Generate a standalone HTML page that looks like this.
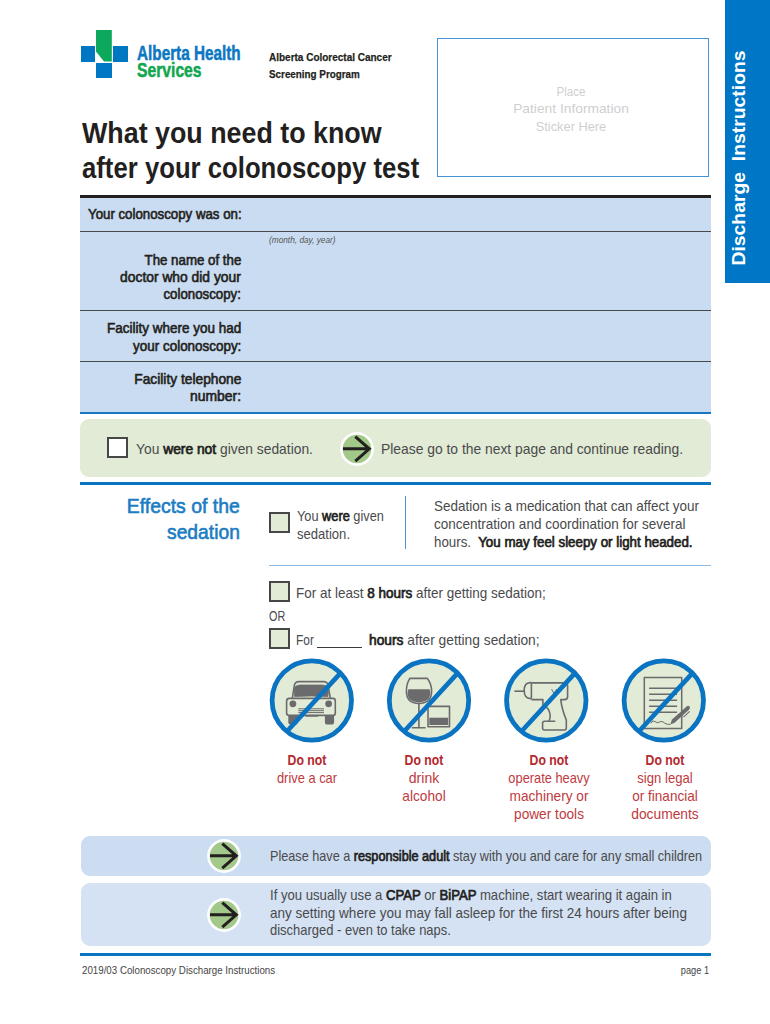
<!DOCTYPE html><html><head><meta charset="utf-8"><style>
html,body{margin:0;padding:0;background:#fff;}
body{width:770px;height:1024px;position:relative;overflow:hidden;font-family:"Liberation Sans",sans-serif;}
.a{position:absolute;}
.tx{position:absolute;white-space:nowrap;line-height:1;}
.tx b{font-weight:400;color:#1f1f20;-webkit-text-stroke:0.7px #1f1f20;}
</style></head><body>
<div class="a" style="left:725px;top:0;width:45px;height:283px;background:#0077c6"></div>
<div class="a" style="left:80.5px;top:45.6px;width:14.8px;height:16px;background:#0077c2"></div>
<div class="a" style="left:113px;top:45.6px;width:15px;height:16px;background:#0077c2"></div>
<div class="a" style="left:96.2px;top:62.8px;width:15.8px;height:15.2px;background:#0077c2"></div>
<svg class="a" style="left:96.2px;top:30.1px" width="16" height="32" viewBox="0 0 16 32"><path d="M0 0 H15.8 V31.4 H8 L0 21.4 Z" fill="#0ca85c"/></svg>
<div class="a" style="left:436.75px;top:38.15px;width:269.9px;height:137.1px;border:1.7px solid #4694d6"></div>
<div class="a" style="left:80px;top:195.2px;width:631px;height:2.9px;background:#231f20"></div>
<div class="a" style="left:80px;top:198.1px;width:631px;height:214.4px;background:#cadcf1"></div>
<div class="a" style="left:80px;top:230.5px;width:631px;height:1.2px;background:#4a4a4c"></div>
<div class="a" style="left:80px;top:310.3px;width:631px;height:1.2px;background:#4a4a4c"></div>
<div class="a" style="left:80px;top:360.8px;width:631px;height:1.2px;background:#4a4a4c"></div>
<div class="a" style="left:80px;top:412.3px;width:631px;height:1.6px;background:#1a78c2"></div>
<div class="a" style="left:80.3px;top:418.9px;width:630.5px;height:57.7px;border-radius:9px;background:#e1ebd5"></div>
<div style="position:absolute;left:107px;top:437.3px;width:17px;height:17px;border:2px solid #474747;background:#fff"></div>
<svg style="position:absolute;left:339.4px;top:430.6px" width="36" height="36" viewBox="0 0 36 36">
<circle cx="18" cy="18" r="16.9" fill="#fff"/><circle cx="18" cy="18" r="14.3" fill="#a3c98a"/>
<path d="M4 17.8 H30.6 M16.3 5.6 L30.3 17.8 L16.3 30.2" fill="none" stroke="#231f20" stroke-width="3"/></svg>
<div class="a" style="left:80px;top:481.9px;width:631px;height:3px;background:#0a74c0"></div>
<div class="a" style="left:404.8px;top:496.2px;width:1.4px;height:53px;background:#4a94d3"></div>
<div style="position:absolute;left:269px;top:512.4px;width:17px;height:17px;border:2px solid #474747;background:#e1ebd5"></div>
<div class="a" style="left:269px;top:564.6px;width:441.5px;height:1.2px;background:#8fbbe3"></div>
<div style="position:absolute;left:269px;top:581.2px;width:17px;height:17px;border:2px solid #474747;background:#e1ebd5"></div>
<div style="position:absolute;left:269px;top:628px;width:17px;height:17px;border:2px solid #474747;background:#e1ebd5"></div>
<div class="a" style="left:317.3px;top:646.9px;width:44.7px;height:1.2px;background:#3b3b3d"></div>
<svg style="position:absolute;left:268px;top:656px" width="88" height="88" viewBox="0 0 88 88">
<circle cx="43.8" cy="44.5" r="40" fill="#e2ebd6"/>
<g fill="none" stroke="#6b6b6d" stroke-width="1.6" stroke-linejoin="round"><path d="M24.3 42.5 L26.3 29.5 Q27 25.6 31 25.6 H55.5 Q59.5 25.6 60.2 29.5 L62.3 42.5"/>
<path d="M26.6 40.5 Q25.6 33 27.3 30.6 Q28.8 28.8 33 29 H53.5 Q57.7 28.8 59.2 30.6 Q60.9 33 59.9 40.5 Q43.2 39.5 26.6 40.5 Z" fill="#6b6b6d" stroke="#6b6b6d" stroke-width="0.8"/>
<path d="M21.5 42.4 H65 Q67.3 42.4 67.3 45 V57 Q67.3 59.4 65 59.4 H21.5 Q18.6 59.4 18.6 57 V45 Q18.6 42.4 21.5 42.4 Z"/>
<circle cx="24.9" cy="47.8" r="3.4" fill="#6b6b6d" stroke="none"/><circle cx="60.6" cy="47.8" r="3.4" fill="#6b6b6d" stroke="none"/>
<path d="M30.3 52.8 H56 M30.3 54.7 H56 M30.3 56.6 H56" stroke-width="1"/>
<path d="M37.5 60.2 H50" stroke-width="1"/>
<path d="M20.3 59.4 V66 Q20.3 68.6 23 68.6 H27 Q29.7 68.6 29.7 66 V59.4 Z M56.9 59.4 V66 Q56.9 68.6 59.6 68.6 H63.4 Q66.1 68.6 66.1 66 V59.4 Z" fill="#6b6b6d" stroke="none"/></g>
<line x1="71.3" y1="18.3" x2="19.299999999999997" y2="75" stroke="#0a74c2" stroke-width="4.7"/>
<circle cx="43.8" cy="44.5" r="39.7" fill="none" stroke="#0a74c2" stroke-width="4.8"/></svg>
<svg style="position:absolute;left:385px;top:656px" width="88" height="88" viewBox="0 0 88 88">
<circle cx="44" cy="44.5" r="40" fill="#e2ebd6"/>
<g fill="none" stroke="#6b6b6d" stroke-width="1.6" stroke-linejoin="round"><path d="M24.8 22.4 H42.4 Q46.6 28 46.6 35 Q46.6 47.4 33.9 47.4 Q21.4 47.4 21.4 35 Q21.4 28 24.8 22.4 Z"/>
<path d="M23.5 33.2 H44.5 Q45.3 35 45.3 36.5 Q45.3 46.2 33.9 46.2 Q22.6 46.2 22.6 36.5 Q22.6 35 23.5 33.2 Z" fill="#6b6b6d" stroke="none"/>
<path d="M33.9 47.4 V71.8 M26.9 71.8 H40.6"/>
<path d="M43 50.4 H64.5 V70.8 H43 Z"/>
<path d="M44.3 61.7 H63.2 V69 H44.3 Z" fill="#6b6b6d" stroke="none"/></g>
<line x1="71.5" y1="18.3" x2="19.5" y2="75" stroke="#0a74c2" stroke-width="4.7"/>
<circle cx="44" cy="44.5" r="39.7" fill="none" stroke="#0a74c2" stroke-width="4.8"/></svg>
<svg style="position:absolute;left:503px;top:656px" width="88" height="88" viewBox="0 0 88 88">
<circle cx="43.3" cy="44.5" r="40" fill="#e2ebd6"/>
<g fill="none" stroke="#6b6b6d" stroke-width="1.6" stroke-linejoin="round"><path d="M11.4 35.2 H21.3"/>
<path d="M28.5 26.6 H27 Q21.2 26.8 21.2 34.5 Q21.2 42.6 27.5 42.6 H28.5"/>
<path d="M28.4 26.9 V42.6"/>
<path d="M28.4 26.9 H61.5 Q64.6 26.9 64.6 30 V40.5 Q64.6 43.6 61.5 43.6 H57.8 Q58.5 52 63.3 64 V72 Q63.3 74 61.3 74 H41.4 Q39.6 74 39.6 72 V67 Q39.6 65.2 41.4 65.2 H52.3"/>
<path d="M28.4 43.6 H39.9 V48.8 Q46.8 52 47.2 60 Q47.3 63.6 45.5 65.2"/>
<path d="M48.6 33.2 L51 37.6 L53.5 33.4 L55.4 37.6 L58.3 33.4" stroke-width="1"/></g>
<line x1="70.8" y1="18.3" x2="18.799999999999997" y2="75" stroke="#0a74c2" stroke-width="4.7"/>
<circle cx="43.3" cy="44.5" r="39.7" fill="none" stroke="#0a74c2" stroke-width="4.8"/></svg>
<svg style="position:absolute;left:620px;top:656px" width="88" height="88" viewBox="0 0 88 88">
<circle cx="43.8" cy="44.5" r="40" fill="#e2ebd6"/>
<g fill="none" stroke="#6b6b6d" stroke-width="1.6" stroke-linejoin="round"><path d="M24.3 21.5 H61.7 V72.6 H24.3 Z" stroke-width="1.5"/>
<path d="M29.1 32.2 H57.1 M29.1 38.3 H57.1 M29.1 44.3 H57.1 M29.1 50.3 H57.1 M29.1 56.2 H57.1" stroke-width="1.4"/>
<path d="M30.9 67.4 Q32.5 63.5 35 65.5 Q37.5 67.8 39.5 66 Q42 64.2 44.5 67 Q47 68.8 50.3 68.4" stroke-width="1"/>
<path d="M50.3 68.6 L52 63.6 L66.6 50.4 Q68.3 49 69.5 50.4 Q70.6 51.9 69.2 53.4 L54.6 66.8 Z" fill="#6b6b6d" stroke="none"/>
<path d="M63.4 61.1 L69.7 55.4" stroke-width="1.1"/></g>
<line x1="71.3" y1="18.3" x2="19.299999999999997" y2="75" stroke="#0a74c2" stroke-width="4.7"/>
<circle cx="43.8" cy="44.5" r="39.7" fill="none" stroke="#0a74c2" stroke-width="4.8"/></svg>
<div class="a" style="left:80.5px;top:835.8px;width:630px;height:40px;border-radius:9px;background:#ccdcf1"></div>
<div class="a" style="left:80.5px;top:882.5px;width:630px;height:63px;border-radius:9px;background:#d4e2f3"></div>
<svg style="position:absolute;left:206px;top:837.5px" width="36" height="36" viewBox="0 0 36 36">
<circle cx="18" cy="18" r="16.9" fill="#fff"/><circle cx="18" cy="18" r="14.3" fill="#a3c98a"/>
<path d="M4 17.8 H30.6 M16.3 5.6 L30.3 17.8 L16.3 30.2" fill="none" stroke="#231f20" stroke-width="3"/></svg>
<svg style="position:absolute;left:206px;top:897px" width="36" height="36" viewBox="0 0 36 36">
<circle cx="18" cy="18" r="16.9" fill="#fff"/><circle cx="18" cy="18" r="14.3" fill="#a3c98a"/>
<path d="M4 17.8 H30.6 M16.3 5.6 L30.3 17.8 L16.3 30.2" fill="none" stroke="#231f20" stroke-width="3"/></svg>
<div class="a" style="left:80px;top:953px;width:631px;height:3px;background:#0a74c0"></div>
<div class="a" style="left:737.5px;top:158.3px;width:0;height:0"><div id="tab" style="position:absolute;left:0;top:0;transform:translate(-50%,-50%) rotate(-90deg) scaleX(1.0190);white-space:nowrap;font-weight:700;color:#fff;font-size:19px;line-height:1;">Discharge&nbsp; Instructions</div></div>
<div class="tx" id="t0" style="left:136.5px;top:42.60px;font-size:20.2px;font-weight:700;color:#0b77c2;-webkit-text-stroke:0.5px #0b77c2;transform:scaleX(0.7577);transform-origin:left top">Alberta Health</div>
<div class="tx" id="t1" style="left:136.5px;top:60.40px;font-size:20.2px;font-weight:700;color:#12a650;-webkit-text-stroke:0.5px #12a650;transform:scaleX(0.7771);transform-origin:left top">Services</div>
<div class="tx" id="t2" style="left:269.1px;top:51.51px;font-size:11.8px;font-weight:700;color:#231F20;-webkit-text-stroke:0.25px #231f20;transform:scaleX(0.8462);transform-origin:left top">Alberta Colorectal Cancer</div>
<div class="tx" id="t3" style="left:269.1px;top:68.60px;font-size:11.8px;font-weight:700;color:#231F20;-webkit-text-stroke:0.25px #231f20;transform:scaleX(0.8349);transform-origin:left top">Screening Program</div>
<div class="tx" id="t4" style="left:571px;top:84.51px;font-size:13.2px;font-weight:400;color:#cfcfcf;transform:translateX(-50%)"><span style="display:inline-block;transform:scaleX(0.8818);transform-origin:center">Place</span></div>
<div class="tx" id="t5" style="left:571px;top:102.20px;font-size:13.2px;font-weight:400;color:#cfcfcf;transform:translateX(-50%)"><span style="display:inline-block;transform:scaleX(1.0450);transform-origin:center">Patient Information</span></div>
<div class="tx" id="t6" style="left:571px;top:120.40px;font-size:13.2px;font-weight:400;color:#cfcfcf;transform:translateX(-50%)"><span style="display:inline-block;transform:scaleX(0.9712);transform-origin:center">Sticker Here</span></div>
<div class="tx" id="t7" style="left:81.5px;top:118.71px;font-size:28.8px;font-weight:700;color:#231F20;transform:scaleX(0.9317);transform-origin:left top">What you need to know</div>
<div class="tx" id="t8" style="left:81.5px;top:154.01px;font-size:28.8px;font-weight:700;color:#231F20;transform:scaleX(0.8929);transform-origin:left top">after your colonoscopy test</div>
<div class="tx" id="t9" style="left:87.7px;top:207.41px;font-size:14.2px;font-weight:400;color:#231F20;-webkit-text-stroke:0.6px #231f20;transform:scaleX(0.9348);transform-origin:left top">Your colonoscopy was on:</div>
<div class="tx" id="t10" style="left:269px;top:235.91px;font-size:8.6px;font-weight:400;color:#555;font-style:italic;transform:scaleX(0.9638);transform-origin:left top">(month, day, year)</div>
<div class="tx" id="t11" style="right:529px;top:252.51px;font-size:14.2px;font-weight:400;color:#231F20;-webkit-text-stroke:0.6px #231f20;transform:scaleX(0.9369);transform-origin:right top">The name of the</div>
<div class="tx" id="t12" style="right:529px;top:270.21px;font-size:14.2px;font-weight:400;color:#231F20;-webkit-text-stroke:0.6px #231f20;transform:scaleX(0.9750);transform-origin:right top">doctor who did your</div>
<div class="tx" id="t13" style="right:529px;top:286.60px;font-size:14.2px;font-weight:400;color:#231F20;-webkit-text-stroke:0.6px #231f20;transform:scaleX(0.9337);transform-origin:right top">colonoscopy:</div>
<div class="tx" id="t14" style="right:529px;top:321.01px;font-size:14.2px;font-weight:400;color:#231F20;-webkit-text-stroke:0.6px #231f20;transform:scaleX(0.9504);transform-origin:right top">Facility where you had</div>
<div class="tx" id="t15" style="right:529px;top:338.60px;font-size:14.2px;font-weight:400;color:#231F20;-webkit-text-stroke:0.6px #231f20;transform:scaleX(0.9465);transform-origin:right top">your colonoscopy:</div>
<div class="tx" id="t16" style="right:529px;top:371.81px;font-size:14.2px;font-weight:400;color:#231F20;-webkit-text-stroke:0.6px #231f20;transform:scaleX(0.9700);transform-origin:right top">Facility telephone</div>
<div class="tx" id="t17" style="right:529px;top:388.51px;font-size:14.2px;font-weight:400;color:#231F20;-webkit-text-stroke:0.6px #231f20;transform:scaleX(0.9808);transform-origin:right top">number:</div>
<div class="tx" id="t18" style="left:135.8px;top:441.51px;font-size:14.2px;font-weight:400;color:#4a4a4c;transform:scaleX(0.9736);transform-origin:left top">You <b>were not</b> given sedation.</div>
<div class="tx" id="t19" style="left:380.8px;top:441.90px;font-size:14.2px;font-weight:400;color:#4a4a4c;transform:scaleX(0.9767);transform-origin:left top">Please go to the next page and continue reading.</div>
<div class="tx" id="t20" style="right:530.1px;top:496.30px;font-size:20.6px;font-weight:400;color:#1a7cc2;-webkit-text-stroke:0.6px #1a7cc2;transform:scaleX(0.9433);transform-origin:right top">Effects of the</div>
<div class="tx" id="t21" style="right:530px;top:522.01px;font-size:20.6px;font-weight:400;color:#1a7cc2;-webkit-text-stroke:0.6px #1a7cc2;transform:scaleX(0.9359);transform-origin:right top">sedation</div>
<div class="tx" id="t22" style="left:297.4px;top:509.21px;font-size:14.2px;font-weight:400;color:#4a4a4c;transform:scaleX(0.9000);transform-origin:left top">You <b>were</b> given</div>
<div class="tx" id="t23" style="left:297.4px;top:526.81px;font-size:14.2px;font-weight:400;color:#4a4a4c;transform:scaleX(0.9207);transform-origin:left top">sedation.</div>
<div class="tx" id="t24" style="left:433.6px;top:499.40px;font-size:14.2px;font-weight:400;color:#4a4a4c;transform:scaleX(0.9498);transform-origin:left top">Sedation is a medication that can affect your</div>
<div class="tx" id="t25" style="left:433.6px;top:517.01px;font-size:14.2px;font-weight:400;color:#4a4a4c;transform:scaleX(0.9523);transform-origin:left top">concentration and coordination for several</div>
<div class="tx" id="t26" style="left:433.6px;top:534.51px;font-size:14.2px;font-weight:400;color:#4a4a4c;transform:scaleX(0.9393);transform-origin:left top">hours.&nbsp; <b>You may feel sleepy or light headed.</b></div>
<div class="tx" id="t27" style="left:296.2px;top:586.01px;font-size:14.2px;font-weight:400;color:#4a4a4c;transform:scaleX(0.9506);transform-origin:left top">For at least <b>8 hours</b> after getting sedation;</div>
<div class="tx" id="t28" style="left:269.35px;top:608.51px;font-size:14.2px;font-weight:400;color:#4a4a4c;transform:scaleX(0.7619);transform-origin:left top">OR</div>
<div class="tx" id="t29" style="left:296.2px;top:632.81px;font-size:14.2px;font-weight:400;color:#4a4a4c;transform:scaleX(0.8381);transform-origin:left top">For</div>
<div class="tx" id="t30" style="left:369px;top:632.81px;font-size:14.2px;font-weight:400;color:#4a4a4c;transform:scaleX(0.9699);transform-origin:left top"><b>hours</b> after getting sedation;</div>
<div class="tx" id="t31" style="left:307.0px;top:753.01px;font-size:14.6px;font-weight:700;color:#b4282e;transform:translateX(-50%)"><span style="display:inline-block;transform:scaleX(0.8391);transform-origin:center">Do not</span></div>
<div class="tx" id="t32" style="left:307.0px;top:771.41px;font-size:14.6px;font-weight:400;color:#c0393e;transform:translateX(-50%)"><span style="display:inline-block;transform:scaleX(0.8824);transform-origin:center">drive a car</span></div>
<div class="tx" id="t33" style="left:423.9px;top:753.01px;font-size:14.6px;font-weight:700;color:#b4282e;transform:translateX(-50%)"><span style="display:inline-block;transform:scaleX(0.8391);transform-origin:center">Do not</span></div>
<div class="tx" id="t34" style="left:423.9px;top:771.41px;font-size:14.6px;font-weight:400;color:#c0393e;transform:translateX(-50%)"><span style="display:inline-block;transform:scaleX(0.9656);transform-origin:center">drink</span></div>
<div class="tx" id="t35" style="left:423.9px;top:789.16px;font-size:14.6px;font-weight:400;color:#c0393e;transform:translateX(-50%)"><span style="display:inline-block;transform:scaleX(0.9370);transform-origin:center">alcohol</span></div>
<div class="tx" id="t36" style="left:548.5px;top:753.01px;font-size:14.6px;font-weight:700;color:#b4282e;transform:translateX(-50%)"><span style="display:inline-block;transform:scaleX(0.8391);transform-origin:center">Do not</span></div>
<div class="tx" id="t37" style="left:548.5px;top:771.41px;font-size:14.6px;font-weight:400;color:#c0393e;transform:translateX(-50%)"><span style="display:inline-block;transform:scaleX(0.8785);transform-origin:center">operate heavy</span></div>
<div class="tx" id="t38" style="left:548.5px;top:789.16px;font-size:14.6px;font-weight:400;color:#c0393e;transform:translateX(-50%)"><span style="display:inline-block;transform:scaleX(0.9357);transform-origin:center">machinery or</span></div>
<div class="tx" id="t39" style="left:548.5px;top:806.91px;font-size:14.6px;font-weight:400;color:#c0393e;transform:translateX(-50%)"><span style="display:inline-block;transform:scaleX(0.9373);transform-origin:center">power tools</span></div>
<div class="tx" id="t40" style="left:665.3px;top:753.01px;font-size:14.6px;font-weight:700;color:#b4282e;transform:translateX(-50%)"><span style="display:inline-block;transform:scaleX(0.8391);transform-origin:center">Do not</span></div>
<div class="tx" id="t41" style="left:665.3px;top:771.41px;font-size:14.6px;font-weight:400;color:#c0393e;transform:translateX(-50%)"><span style="display:inline-block;transform:scaleX(0.8984);transform-origin:center">sign legal</span></div>
<div class="tx" id="t42" style="left:665.3px;top:789.16px;font-size:14.6px;font-weight:400;color:#c0393e;transform:translateX(-50%)"><span style="display:inline-block;transform:scaleX(0.9296);transform-origin:center">or financial</span></div>
<div class="tx" id="t43" style="left:665.3px;top:806.91px;font-size:14.6px;font-weight:400;color:#c0393e;transform:translateX(-50%)"><span style="display:inline-block;transform:scaleX(0.9451);transform-origin:center">documents</span></div>
<div class="tx" id="t44" style="left:270px;top:849.40px;font-size:14.2px;font-weight:400;color:#4a4a4c;transform:scaleX(0.8924);transform-origin:left top">Please have a <b>responsible adult</b> stay with you and care for any small children</div>
<div class="tx" id="t45" style="left:270px;top:888.01px;font-size:14.2px;font-weight:400;color:#4a4a4c;transform:scaleX(0.9253);transform-origin:left top">If you usually use a <b>CPAP</b> or <b>BiPAP</b> machine, start wearing it again in</div>
<div class="tx" id="t46" style="left:270px;top:905.71px;font-size:14.2px;font-weight:400;color:#4a4a4c;transform:scaleX(0.9525);transform-origin:left top">any setting where you may fall asleep for the first 24 hours after being</div>
<div class="tx" id="t47" style="left:270px;top:923.10px;font-size:14.2px;font-weight:400;color:#4a4a4c;transform:scaleX(0.9136);transform-origin:left top">discharged - even to take naps.</div>
<div class="tx" id="t48" style="left:81.8px;top:965.11px;font-size:10.5px;font-weight:400;color:#444;transform:scaleX(0.9269);transform-origin:left top">2019/03 Colonoscopy Discharge Instructions</div>
<div class="tx" id="t49" style="right:60.799999999999955px;top:965.11px;font-size:10.5px;font-weight:400;color:#444;transform:scaleX(0.8812);transform-origin:right top">page 1</div>
</body></html>
